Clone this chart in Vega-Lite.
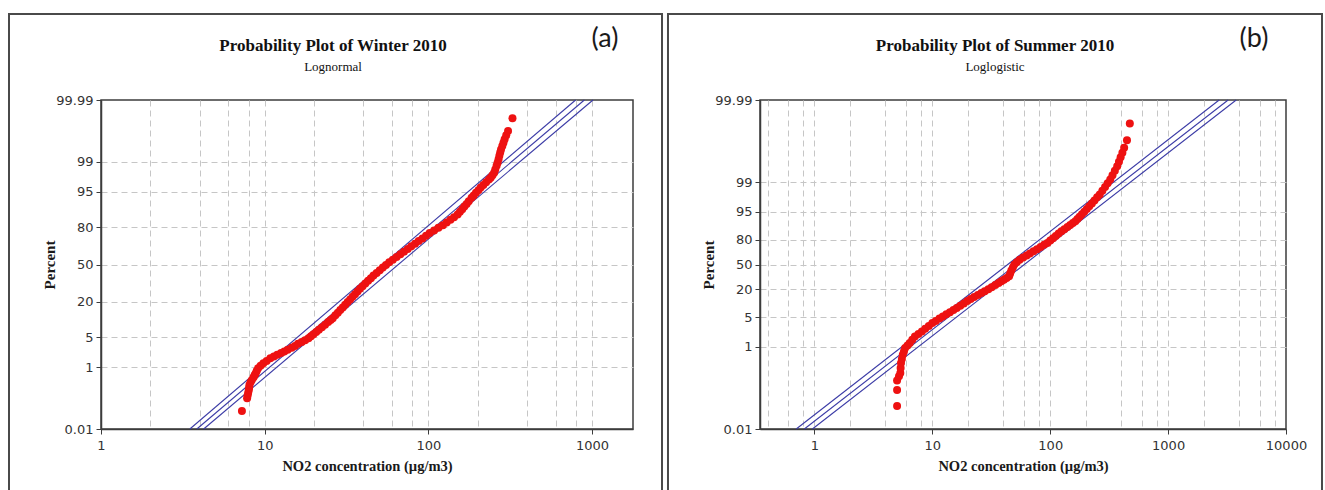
{
  "$schema": "https://vega.github.io/schema/vega-lite/v6.json",
  "background": "white",
  "padding": {"left": 7, "top": 12, "right": 0, "bottom": 0},
  "spacing": 127,
  "bounds": "flush",
  "config": {
    "view": {"stroke": "#3c3c3c", "strokeWidth": 1.5},
    "axis": {
      "domainColor": "#3c3c3c", "domainWidth": 1.5,
      "tickColor": "#3c3c3c", "tickSize": 5, "tickWidth": 1,
      "labelFont": "DejaVu Sans", "labelFontSize": 13, "labelColor": "#333333",
      "titleFont": "Liberation Serif", "titleFontWeight": "bold", "titleColor": "#1a1a1a",
      "gridColor": "#c6c6c6", "gridDash": [6, 4], "gridWidth": 1,
      "labelFlush": false, "labelOverlap": false
    },
    "title": {
      "font": "Liberation Serif", "fontSize": 17, "fontWeight": "bold", "color": "#111111",
      "subtitleFont": "Liberation Serif", "subtitleFontSize": 13, "subtitleColor": "#111111",
      "subtitlePadding": 6, "anchor": "middle"
    }
  },
  "datasets": {
    "w": [
      {"no2": 7.26, "score": -3.312}, {"no2": 7.81, "score": -3.025}, {"no2": 7.87, "score": -2.96},
      {"no2": 7.93, "score": -2.9}, {"no2": 8.0, "score": -2.84}, {"no2": 8.04, "score": -2.78},
      {"no2": 8.07, "score": -2.723}, {"no2": 8.2, "score": -2.66}, {"no2": 8.36, "score": -2.609},
      {"no2": 8.55, "score": -2.55}, {"no2": 8.69, "score": -2.5}, {"no2": 8.82, "score": -2.458},
      {"no2": 8.95, "score": -2.4}, {"no2": 9.12, "score": -2.345}, {"no2": 9.44, "score": -2.29},
      {"no2": 9.82, "score": -2.232}, {"no2": 10.28, "score": -2.18}, {"no2": 10.83, "score": -2.118},
      {"no2": 11.38, "score": -2.08}, {"no2": 11.94, "score": -2.043}, {"no2": 12.59, "score": -2.0},
      {"no2": 13.18, "score": -1.965}, {"no2": 13.82, "score": -1.93}, {"no2": 14.62, "score": -1.88},
      {"no2": 15.31, "score": -1.84}, {"no2": 16.0, "score": -1.794}, {"no2": 16.83, "score": -1.75},
      {"no2": 17.66, "score": -1.71}, {"no2": 18.53, "score": -1.665}, {"no2": 19.19, "score": -1.62},
      {"no2": 19.86, "score": -1.575}, {"no2": 20.65, "score": -1.525}, {"no2": 21.43, "score": -1.477},
      {"no2": 22.39, "score": -1.42}, {"no2": 23.39, "score": -1.36}, {"no2": 24.43, "score": -1.3},
      {"no2": 25.29, "score": -1.255}, {"no2": 26.06, "score": -1.213}, {"no2": 27.04, "score": -1.15},
      {"no2": 27.99, "score": -1.09}, {"no2": 28.97, "score": -1.03}, {"no2": 29.99, "score": -0.97},
      {"no2": 31.05, "score": -0.91}, {"no2": 32.14, "score": -0.85}, {"no2": 33.27, "score": -0.79},
      {"no2": 34.44, "score": -0.73}, {"no2": 35.65, "score": -0.67}, {"no2": 36.9, "score": -0.61},
      {"no2": 38.19, "score": -0.55}, {"no2": 39.63, "score": -0.49}, {"no2": 41.21, "score": -0.43},
      {"no2": 42.85, "score": -0.37}, {"no2": 44.57, "score": -0.31}, {"no2": 46.24, "score": -0.25},
      {"no2": 48.31, "score": -0.19}, {"no2": 50.47, "score": -0.13}, {"no2": 52.72, "score": -0.07},
      {"no2": 55.08, "score": -0.01}, {"no2": 57.68, "score": 0.05}, {"no2": 60.67, "score": 0.11},
      {"no2": 63.97, "score": 0.17}, {"no2": 67.45, "score": 0.23}, {"no2": 70.96, "score": 0.29},
      {"no2": 74.82, "score": 0.35}, {"no2": 78.7, "score": 0.41}, {"no2": 82.99, "score": 0.47},
      {"no2": 87.3, "score": 0.53}, {"no2": 92.04, "score": 0.59}, {"no2": 96.83, "score": 0.65},
      {"no2": 101.9, "score": 0.71}, {"no2": 108.4, "score": 0.77}, {"no2": 115.3, "score": 0.83},
      {"no2": 122.7, "score": 0.89}, {"no2": 129.4, "score": 0.95}, {"no2": 136.5, "score": 1.01},
      {"no2": 143.6, "score": 1.07}, {"no2": 151.0, "score": 1.129}, {"no2": 156.0, "score": 1.19},
      {"no2": 161.1, "score": 1.25}, {"no2": 166.0, "score": 1.31}, {"no2": 171.4, "score": 1.37},
      {"no2": 176.6, "score": 1.43}, {"no2": 183.7, "score": 1.507}, {"no2": 189.2, "score": 1.56},
      {"no2": 195.4, "score": 1.62}, {"no2": 202.3, "score": 1.68}, {"no2": 208.9, "score": 1.74},
      {"no2": 216.8, "score": 1.8}, {"no2": 225.4, "score": 1.86}, {"no2": 234.4, "score": 1.92},
      {"no2": 240.4, "score": 1.96}, {"no2": 246.6, "score": 2.02}, {"no2": 252.4, "score": 2.073},
      {"no2": 256.4, "score": 2.15}, {"no2": 261.2, "score": 2.23}, {"no2": 264.8, "score": 2.3},
      {"no2": 268.5, "score": 2.38}, {"no2": 271.6, "score": 2.46}, {"no2": 274.8, "score": 2.53},
      {"no2": 278.0, "score": 2.6}, {"no2": 283.1, "score": 2.68}, {"no2": 287.7, "score": 2.75},
      {"no2": 292.4, "score": 2.83}, {"no2": 299.2, "score": 2.92}, {"no2": 306.9, "score": 3.017},
      {"no2": 326.6, "score": 3.305}
    ],
    "wfit": [
      {"line": "upper", "no2": 3.49, "score": -3.719}, {"line": "upper", "no2": 794, "score": 3.719},
      {"line": "fit", "no2": 3.85, "score": -3.719}, {"line": "fit", "no2": 898, "score": 3.719},
      {"line": "lower", "no2": 4.24, "score": -3.719}, {"line": "lower", "no2": 1014, "score": 3.719}
    ],
    "s": [
      {"no2": 5.02, "score": -7.92}, {"no2": 5.02, "score": -7.02}, {"no2": 5.02, "score": -6.5},
      {"no2": 5.21, "score": -6.25}, {"no2": 5.35, "score": -6.08}, {"no2": 5.38, "score": -5.8},
      {"no2": 5.42, "score": -5.52}, {"no2": 5.51, "score": -5.29}, {"no2": 5.61, "score": -5.06},
      {"no2": 5.74, "score": -4.87}, {"no2": 5.87, "score": -4.68}, {"no2": 6.15, "score": -4.54},
      {"no2": 6.43, "score": -4.4}, {"no2": 6.75, "score": -4.22}, {"no2": 7.11, "score": -4.03},
      {"no2": 7.62, "score": -3.89}, {"no2": 8.15, "score": -3.75}, {"no2": 8.69, "score": -3.6},
      {"no2": 9.33, "score": -3.44}, {"no2": 10.0, "score": -3.28}, {"no2": 10.69, "score": -3.16},
      {"no2": 11.48, "score": -3.03}, {"no2": 12.27, "score": -2.91}, {"no2": 13.15, "score": -2.79},
      {"no2": 14.09, "score": -2.67}, {"no2": 15.1, "score": -2.55}, {"no2": 16.11, "score": -2.44},
      {"no2": 17.26, "score": -2.31}, {"no2": 18.49, "score": -2.18}, {"no2": 19.82, "score": -2.05},
      {"no2": 21.13, "score": -1.93}, {"no2": 22.65, "score": -1.82}, {"no2": 24.32, "score": -1.71},
      {"no2": 26.06, "score": -1.6}, {"no2": 27.8, "score": -1.5}, {"no2": 29.85, "score": -1.38},
      {"no2": 31.84, "score": -1.27}, {"no2": 34.2, "score": -1.15}, {"no2": 36.48, "score": -1.04},
      {"no2": 38.46, "score": -0.94}, {"no2": 40.46, "score": -0.85}, {"no2": 42.66, "score": -0.75},
      {"no2": 44.77, "score": -0.66}, {"no2": 45.71, "score": -0.5}, {"no2": 46.77, "score": -0.33},
      {"no2": 48.19, "score": -0.17}, {"no2": 49.55, "score": -0.01}, {"no2": 52.0, "score": 0.12},
      {"no2": 54.95, "score": 0.27}, {"no2": 58.88, "score": 0.39}, {"no2": 63.1, "score": 0.51},
      {"no2": 67.3, "score": 0.62}, {"no2": 72.11, "score": 0.74}, {"no2": 77.27, "score": 0.86},
      {"no2": 82.79, "score": 0.98}, {"no2": 88.72, "score": 1.1}, {"no2": 94.62, "score": 1.21},
      {"no2": 100.0, "score": 1.34}, {"no2": 105.7, "score": 1.47}, {"no2": 111.4, "score": 1.6},
      {"no2": 117.8, "score": 1.73}, {"no2": 124.5, "score": 1.86}, {"no2": 131.8, "score": 1.98},
      {"no2": 140.0, "score": 2.1}, {"no2": 147.6, "score": 2.21}, {"no2": 155.6, "score": 2.32},
      {"no2": 163.3, "score": 2.42}, {"no2": 170.2, "score": 2.55}, {"no2": 177.4, "score": 2.68},
      {"no2": 185.8, "score": 2.82}, {"no2": 194.5, "score": 2.96}, {"no2": 204.2, "score": 3.11},
      {"no2": 214.3, "score": 3.26}, {"no2": 225.4, "score": 3.42}, {"no2": 237.1, "score": 3.59},
      {"no2": 250.0, "score": 3.76}, {"no2": 263.0, "score": 3.92}, {"no2": 276.7, "score": 4.13},
      {"no2": 291.7, "score": 4.34}, {"no2": 306.9, "score": 4.55}, {"no2": 322.8, "score": 4.76},
      {"no2": 337.3, "score": 5.0}, {"no2": 353.2, "score": 5.25}, {"no2": 369.8, "score": 5.5},
      {"no2": 382.8, "score": 5.75}, {"no2": 395.4, "score": 6.0}, {"no2": 409.3, "score": 6.25},
      {"no2": 423.6, "score": 6.53}, {"no2": 447.7, "score": 6.96}, {"no2": 473.2, "score": 7.9}
    ],
    "sfit": [
      {"line": "upper", "no2": 0.7, "score": -9.2102}, {"line": "upper", "no2": 2710, "score": 9.2102},
      {"line": "fit", "no2": 0.82, "score": -9.2102}, {"line": "fit", "no2": 3230, "score": 9.2102},
      {"line": "lower", "no2": 0.96, "score": -9.2102}, {"line": "lower", "no2": 3780, "score": 9.2102}
    ]
  },
  "hconcat": [
    {
      "width": 532,
      "height": 329,
      "title": {"text": "Probability Plot of Winter 2010", "subtitle": "Lognormal", "offset": -62, "dx": -34},
      "layer": [
        {
          "data": {"values": [{}]},
          "mark": {"type": "rect", "filled": false, "stroke": "#4a4a4a", "strokeWidth": 2},
          "encoding": {
            "x": {"datum": 0.2741, "type": "quantitative", "scale": {"type": "log", "domain": [1, 1780], "nice": false}},
            "x2": {"datum": 2677},
            "y": {"datum": 5.663, "type": "quantitative", "scale": {"domain": [-3.719, 3.719], "nice": false, "zero": false}},
            "y2": {"datum": -5.347}
          }
        },
        {
          "data": {"name": "wfit"},
          "mark": {"type": "line", "color": "#3b3ba6", "strokeWidth": 1.1},
          "encoding": {
            "x": {"field": "no2", "type": "quantitative", "scale": {"type": "log", "domain": [1, 1780], "nice": false}},
            "y": {"field": "score", "type": "quantitative", "scale": {"domain": [-3.719, 3.719], "nice": false, "zero": false}},
            "detail": {"field": "line"}
          }
        },
        {
          "data": {"name": "w"},
          "mark": {"type": "circle", "color": "#ee1111", "size": 64, "opacity": 1},
          "encoding": {
            "x": {
              "field": "no2", "type": "quantitative",
              "scale": {"type": "log", "domain": [1, 1780], "nice": false},
              "axis": {
                "title": "NO2 concentration (µg/m3)", "titleFontSize": 14.5, "titlePadding": 7,
                "values": [1, 2, 4, 6, 8, 10, 20, 40, 60, 80, 100, 200, 400, 600, 800, 1000],
                "labelExpr": "indexof([1,10,100,1000], datum.value) >= 0 ? format(datum.value, 'd') : ''",
                "tickOpacity": {"condition": {"test": "indexof([1,10,100,1000], datum.value) >= 0", "value": 1}, "value": 0},
                "gridOpacity": {"condition": {"test": "datum.value == 1", "value": 0}, "value": 1},
                "labelPadding": 5, "grid": true
              }
            },
            "y": {
              "field": "score", "type": "quantitative",
              "scale": {"domain": [-3.719, 3.719], "nice": false, "zero": false},
              "axis": {
                "title": "Percent", "titleFontSize": 15, "titlePadding": -2,
                "values": [-3.719, -2.3263, -1.6449, -0.8416, 0, 0.8416, 1.6449, 2.3263, 3.719],
                "labelExpr": "['0.01','1','5','20','50','80','95','99','99.99'][indexof([-3.719,-2.3263,-1.6449,-0.8416,0,0.8416,1.6449,2.3263,3.719], datum.value)]",
                "gridOpacity": {"condition": {"test": "abs(datum.value) > 3.7", "value": 0}, "value": 1},
                "labelPadding": 3, "grid": true
              }
            }
          }
        },
        {
          "data": {"values": [{"tag": "(a)"}]},
          "mark": {"type": "text", "font": "Lato", "fontSize": 27, "color": "#1a1a1a", "align": "center", "baseline": "middle"},
          "encoding": {
            "x": {"datum": 1201, "type": "quantitative", "scale": {"type": "log", "domain": [1, 1780], "nice": false}},
            "y": {"datum": 5.098, "type": "quantitative", "scale": {"domain": [-3.719, 3.719], "nice": false, "zero": false}},
            "text": {"field": "tag"}
          }
        }
      ]
    },
    {
      "width": 526,
      "height": 329,
      "title": {"text": "Probability Plot of Summer 2010", "subtitle": "Loglogistic", "offset": -62, "dx": -28},
      "layer": [
        {
          "data": {"values": [{}]},
          "mark": {"type": "rect", "filled": false, "stroke": "#4a4a4a", "strokeWidth": 2},
          "encoding": {
            "x": {"datum": 0.05718, "type": "quantitative", "scale": {"type": "log", "domain": [0.345, 10000], "nice": false}},
            "x2": {"datum": 20200},
            "y": {"datum": 14.025, "type": "quantitative", "scale": {"domain": [-9.2102, 9.2102], "nice": false, "zero": false}},
            "y2": {"datum": -13.241}
          }
        },
        {
          "data": {"name": "sfit"},
          "mark": {"type": "line", "color": "#3b3ba6", "strokeWidth": 1.1},
          "encoding": {
            "x": {"field": "no2", "type": "quantitative", "scale": {"type": "log", "domain": [0.345, 10000], "nice": false}},
            "y": {"field": "score", "type": "quantitative", "scale": {"domain": [-9.2102, 9.2102], "nice": false, "zero": false}},
            "detail": {"field": "line"}
          }
        },
        {
          "data": {"name": "s"},
          "mark": {"type": "circle", "color": "#ee1111", "size": 64, "opacity": 1},
          "encoding": {
            "x": {
              "field": "no2", "type": "quantitative",
              "scale": {"type": "log", "domain": [0.345, 10000], "nice": false},
              "axis": {
                "title": "NO2 concentration (µg/m3)", "titleFontSize": 14.5, "titlePadding": 7,
                "values": [0.4, 0.6, 0.8, 1, 2, 4, 6, 8, 10, 20, 40, 60, 80, 100, 200, 400, 600, 800, 1000, 2000, 4000, 6000, 8000, 10000],
                "labelExpr": "indexof([1,10,100,1000,10000], datum.value) >= 0 ? format(datum.value, 'd') : ''",
                "tickOpacity": {"condition": {"test": "indexof([1,10,100,1000,10000], datum.value) >= 0", "value": 1}, "value": 0},
                "gridOpacity": {"condition": {"test": "datum.value == 10000", "value": 0}, "value": 1},
                "labelPadding": 5, "grid": true
              }
            },
            "y": {
              "field": "score", "type": "quantitative",
              "scale": {"domain": [-9.2102, 9.2102], "nice": false, "zero": false},
              "axis": {
                "title": "Percent", "titleFontSize": 15, "titlePadding": -2,
                "values": [-9.2102, -4.5951, -2.9444, -1.3863, 0, 1.3863, 2.9444, 4.5951, 9.2102],
                "labelExpr": "['0.01','1','5','20','50','80','95','99','99.99'][indexof([-9.2102,-4.5951,-2.9444,-1.3863,0,1.3863,2.9444,4.5951,9.2102], datum.value)]",
                "gridOpacity": {"condition": {"test": "abs(datum.value) > 9", "value": 0}, "value": 1},
                "labelPadding": 3, "grid": true
              }
            }
          }
        },
        {
          "data": {"values": [{"tag": "(b)"}]},
          "mark": {"type": "text", "font": "Lato", "fontSize": 27, "color": "#1a1a1a", "align": "center", "baseline": "middle"},
          "encoding": {
            "x": {"datum": 5351, "type": "quantitative", "scale": {"type": "log", "domain": [0.345, 10000], "nice": false}},
            "y": {"datum": 12.626, "type": "quantitative", "scale": {"domain": [-9.2102, 9.2102], "nice": false, "zero": false}},
            "text": {"field": "tag"}
          }
        }
      ]
    }
  ]
}
